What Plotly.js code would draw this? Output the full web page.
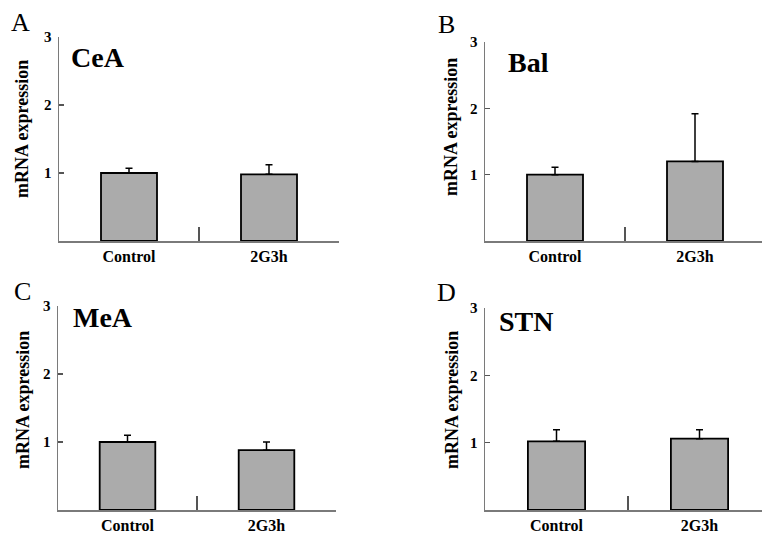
<!DOCTYPE html>
<html>
<head>
<meta charset="utf-8">
<script src="https://cdn.plot.ly/plotly-3.0.1.min.js"></script>
<style>html,body{margin:0;padding:0;background:#fff;}#chart{width:762px;height:534px;}</style>
</head>
<body>
<div id="chart"></div>
<script>
var categories = ["Control", "2G3h"];
var panelLetters = ["A", "B", "C", "D"];
var regionNames = ["CeA", "Bal", "MeA", "STN"];
var valuesCeA = [1.00, 0.98];
var errorsCeA = [0.07, 0.14];
var valuesBal = [1.00, 1.20];
var errorsBal = [0.11, 0.72];
var valuesMeA = [1.00, 0.88];
var errorsMeA = [0.10, 0.12];
var valuesSTN = [1.02, 1.06];
var errorsSTN = [0.17, 0.13];
var yTickValues = [1, 2, 3];
var yTickLabels = ["1", "2", "3"];
var yTitle = "mRNA expression";

var W = 762, H = 534;
var serif = "Liberation Serif";
var values = [valuesCeA, valuesBal, valuesMeA, valuesSTN];
var errors = [errorsCeA, errorsBal, errorsMeA, errorsSTN];

// pixel geometry of each panel: [left, right, top(value 3), baseline, categoryWidth]
var geo = [
  [59, 339, 37, 241, 140],
  [485, 762, 42, 241, 140],
  [58, 336, 306, 510, 139],
  [485, 762, 308, 510, 143]
];
var letterPos = [[20, 23], [446, 24], [22, 291], [446, 292]];
var namePos = [[69, 57], [506, 62], [71, 317], [497, 321]];
var ytitlePos = [[22, 129], [451, 127], [23, 400], [452, 400]];

var traces = [];
var layout = {
  width: W, height: H,
  margin: {l: 0, r: 0, t: 0, b: 0},
  paper_bgcolor: "#ffffff", plot_bgcolor: "rgba(0,0,0,0)",
  showlegend: false,
  annotations: [],
  font: {family: serif, color: "#000"}
};

for (var i = 0; i < 4; i++) {
  var sx = i === 0 ? "" : String(i + 1);
  var g = geo[i];
  traces.push({
    type: "bar",
    x: categories,
    y: values[i],
    xaxis: "x" + sx,
    yaxis: "y" + sx,
    width: 0.4,
    marker: {color: "#ababab", line: {color: "#000", width: 1.8}},
    error_y: {type: "data", symmetric: false, array: errors[i], arrayminus: [0, 0],
              color: "#000", thickness: 1.5, width: 3.5}
  });
  var xrEnd = -0.5 + (g[1] - g[0]) / g[4];
  layout["xaxis" + sx] = {
    domain: [g[0] / W, g[1] / W],
    anchor: "y" + sx,
    type: "category",
    range: [-0.5, xrEnd],
    showgrid: false, zeroline: false,
    showline: true, linecolor: "#7a7a7a", linewidth: 1.5,
    ticks: "inside", tickson: "boundaries", ticklen: 14, tickcolor: "#555", tickwidth: 1.5,
    tickfont: {family: serif, size: 16, color: "#000", weight: 700},
    ticklabelstandoff: 0,
    fixedrange: true
  };
  layout["yaxis" + sx] = {
    domain: [1 - g[3] / H, 1 - g[2] / H],
    anchor: "x" + sx,
    range: [0, 3],
    tickvals: yTickValues, ticktext: yTickLabels,
    showgrid: false, zeroline: false,
    showline: true, linecolor: "#7a7a7a", linewidth: 1.5,
    ticks: "inside", ticklen: 5, tickcolor: "#555", tickwidth: 1.5,
    tickfont: {family: serif, size: 15, color: "#000", weight: 700},
    ticklabelstandoff: 3,
    fixedrange: true
  };
  layout.annotations.push({
    xref: "paper", yref: "paper", x: letterPos[i][0] / W, y: 1 - letterPos[i][1] / H,
    xanchor: "center", yanchor: "middle", showarrow: false,
    text: panelLetters[i], font: {family: serif, size: 26, color: "#000"}
  });
  layout.annotations.push({
    xref: "paper", yref: "paper", x: namePos[i][0] / W, y: 1 - namePos[i][1] / H,
    xanchor: "left", yanchor: "middle", showarrow: false,
    text: regionNames[i], font: {family: serif, size: 28, color: "#000", weight: 700}
  });
  layout.annotations.push({
    xref: "paper", yref: "paper", x: ytitlePos[i][0] / W, y: 1 - ytitlePos[i][1] / H,
    xanchor: "center", yanchor: "middle", showarrow: false, textangle: -90,
    text: yTitle, font: {family: serif, size: 18, color: "#000", weight: 700}
  });
}

Plotly.newPlot("chart", traces, layout, {staticPlot: true, displayModeBar: false});
</script>
</body>
</html>
